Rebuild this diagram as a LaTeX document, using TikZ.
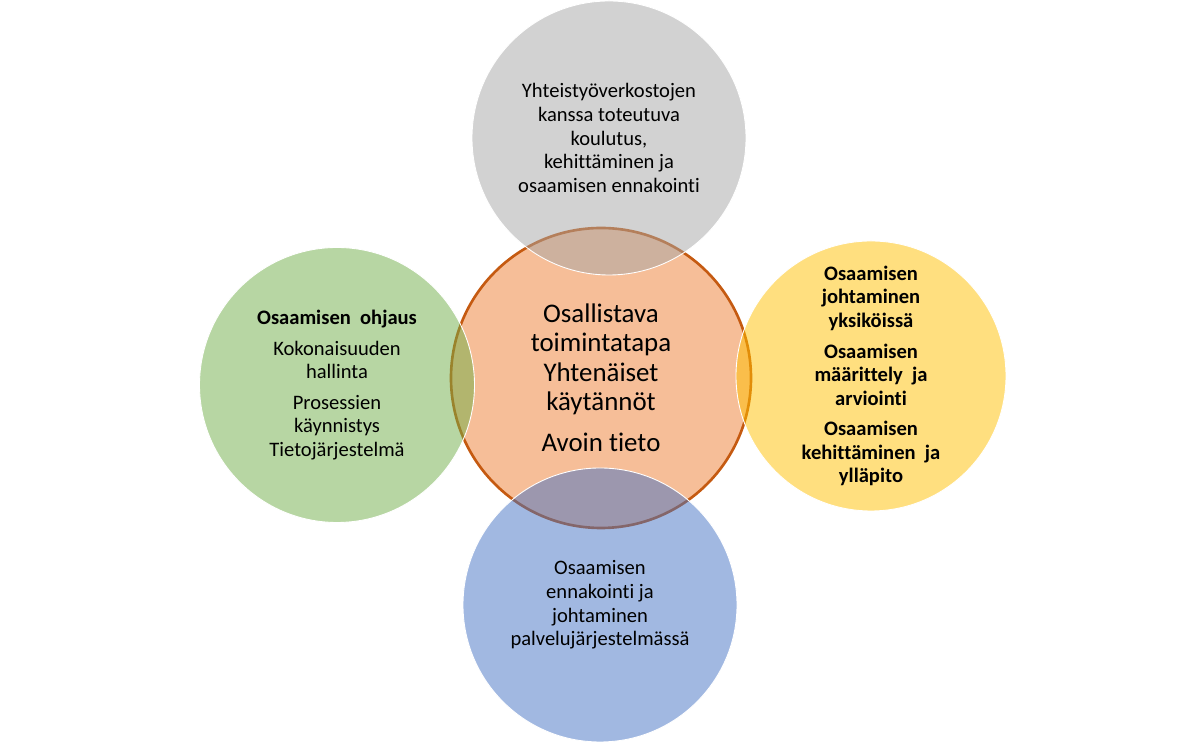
\documentclass[tikz,border=0pt]{standalone}
\usepackage{fontspec}
\setmainfont{Carlito}[Ligatures=NoCommon]
\usetikzlibrary{positioning}

\definecolor{ringgray}{HTML}{A5A5A5}
\definecolor{ringorange}{HTML}{ED7D31}
\definecolor{ringedge}{HTML}{C55A11}
\definecolor{ringgreen}{HTML}{70AD47}
\definecolor{ringyellow}{HTML}{FFC000}
\definecolor{ringblue}{HTML}{4472C4}

\begin{document}
\begin{tikzpicture}[x=1.000cm,y=1.000cm,
 ring/.style={circle,align=center,inner sep=0pt,minimum size=5.480cm,draw=white,line width=0.5pt,fill opacity=0.5,text opacity=1,font=\fontsize{11.7}{13.4}\selectfont},
 hub/.style={circle,align=center,inner sep=0pt,minimum size=6.000cm,draw=ringedge,line width=1.5pt,fill=ringorange,fill opacity=0.5,text opacity=1,font=\fontsize{15.3}{16.6}\selectfont}]
\useasboundingbox (0,0) rectangle (24.060,14.960);
\node[hub] (hub) at (12.020,7.400) {Osallistava\\toimintatapa\\Yhtenäiset\\käytännöt\\[7pt]Avoin tieto};
\node[ring,fill=ringgray] (top) at (12.180,12.200) {Yhteistyöverkostojen\\kanssa toteutuva\\koulutus,\\kehittäminen ja\\osaamisen ennakointi};
\node[ring,fill=ringgreen,minimum size=5.500cm] (left) at (6.740,7.260) {\textbf{Osaamisen\ \ ohjaus}\\[4pt]Kokonaisuuden\\hallinta\\[4pt]Prosessien\\käynnistys\\Tietojärjestelmä};
\node[ring,fill=ringyellow,minimum size=5.400cm] (right) at (17.420,7.440) {\textbf{Osaamisen}\\\textbf{johtaminen}\\\textbf{yksiköissä}\\[4pt]\textbf{Osaamisen}\\\textbf{määrittely\ \ ja}\\\textbf{arviointi}\\[4pt]\textbf{Osaamisen}\\\textbf{kehittäminen\ \ ja}\\\textbf{ylläpito}};
\node[ring,fill=ringblue] (bottom) at (12.000,2.860) {Osaamisen\\ennakointi ja\\johtaminen\\palvelujärjestelmässä};
\end{tikzpicture}
\end{document}
